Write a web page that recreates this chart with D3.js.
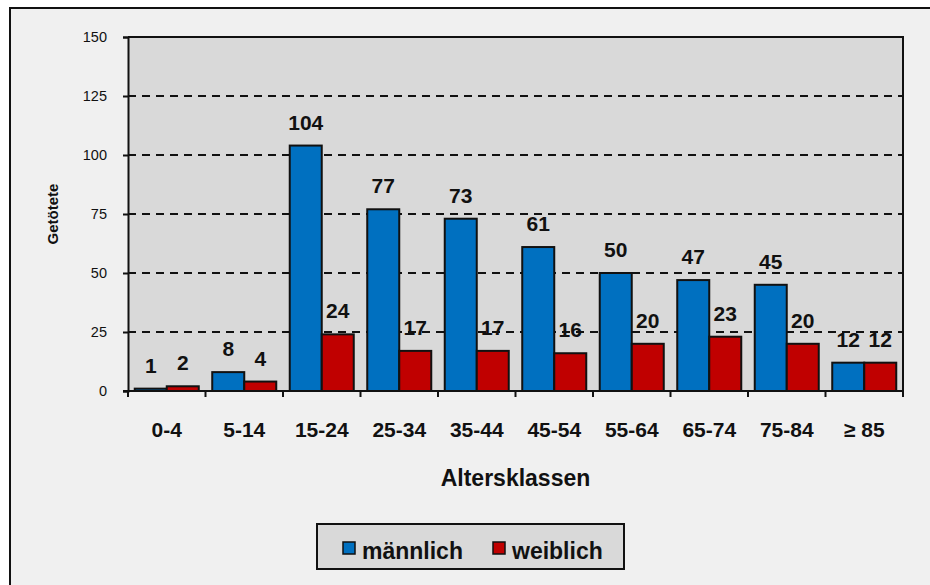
<!DOCTYPE html>
<html>
<head>
<meta charset="utf-8">
<script src="https://cdn.jsdelivr.net/npm/d3@7"></script>
<style>
  body { margin: 0; background: #fff; }
  svg { display: block; font-family: Arial, 'Liberation Sans', sans-serif; }
</style>
</head>
<body>
<div id="chart"></div>
<script>
// data
const categories = ['0-4', '5-14', '15-24', '25-34', '35-44', '45-54', '55-64', '65-74', '75-84', '≥ 85']
const maennlich = [1, 8, 104, 77, 73, 61, 50, 47, 45, 12]
const weiblich = [2, 4, 24, 17, 17, 16, 20, 23, 20, 12]
const seriesNames = ['männlich', 'weiblich']
const yTicks = [0, 25, 50, 75, 100, 125, 150]

const W = 930, H = 585
const plot = { left: 128, right: 903, top: 37, bottom: 391 }
const colors = ['#0070C0', '#C00000']

const svg = d3.select('#chart').append('svg')
    .attr('width', W)
    .attr('height', H)

// outer chart area (cropped at right/bottom)
svg.append('rect')
    .attr('x', 10).attr('y', 8)
    .attr('width', W + 10).attr('height', H + 10)
    .attr('fill', '#F0F0F0')
    .attr('stroke', '#111')
    .attr('stroke-width', 2)

const xScale = d3.scaleBand()
    .domain(categories)
    .range([plot.left, plot.right])
    .paddingInner(0.174)
    .paddingOuter(0.087)

const xSub = d3.scaleBand()
    .domain(seriesNames)
    .range([0, xScale.bandwidth()])

const yScale = d3.scaleLinear()
    .domain([0, 150])
    .range([plot.bottom, plot.top])

// plot area
svg.append('rect')
    .attr('x', plot.left).attr('y', plot.top)
    .attr('width', plot.right - plot.left)
    .attr('height', plot.bottom - plot.top)
    .attr('fill', '#D9D9D9')

// gridlines
svg.append('g')
    .selectAll('line')
    .data(yTicks.filter(d => d > 0 && d < 150))
    .join('line')
    .attr('x1', plot.left).attr('x2', plot.right)
    .attr('y1', d => yScale(d)).attr('y2', d => yScale(d))
    .attr('stroke', '#111')
    .attr('stroke-width', 2)
    .attr('stroke-dasharray', '8,6')

// top + right frame
svg.append('path')
    .attr('d', `M${plot.left},${plot.top}H${plot.right}V${plot.bottom}`)
    .attr('fill', 'none')
    .attr('stroke', '#111')
    .attr('stroke-width', 2)

// bars
const rows = categories.map((c, i) => ({ cat: c, values: [maennlich[i], weiblich[i]] }))

const groups = svg.append('g')
    .selectAll('g')
    .data(rows)
    .join('g')
    .attr('transform', d => `translate(${xScale(d.cat)},0)`)

groups.selectAll('rect')
    .data(d => d.values.map((v, j) => ({ name: seriesNames[j], v: v, j: j })))
    .join('rect')
    .attr('x', d => xSub(d.name))
    .attr('y', d => yScale(d.v))
    .attr('width', xSub.bandwidth())
    .attr('height', d => yScale(0) - yScale(d.v))
    .attr('fill', d => colors[d.j])
    .attr('stroke', '#111')
    .attr('stroke-width', 2)

// value labels
groups.selectAll('text')
    .data(d => d.values.map((v, j) => ({ name: seriesNames[j], v: v })))
    .join('text')
    .attr('x', d => xSub(d.name) + xSub.bandwidth() / 2)
    .attr('y', d => yScale(d.v) - 16)
    .attr('text-anchor', 'middle')
    .style('font-size', '21px')
    .style('font-weight', 'bold')
    .attr('fill', '#111')
    .text(d => d.v)

// y axis
const yaxis = d3.axisLeft(yScale).tickValues(yTicks).tickSize(5).tickPadding(16)
const gy = svg.append('g')
    .attr('transform', `translate(${plot.left},0)`)
    .call(yaxis)
gy.select('.domain').attr('stroke', '#111').attr('stroke-width', 2)
gy.selectAll('.tick line').attr('stroke', '#111').attr('stroke-width', 2)
gy.selectAll('.tick text')
    .style('font-size', '14.5px')
    .style('font-family', 'Arial, Liberation Sans, sans-serif')
    .attr('fill', '#111')

// x axis (ticks between categories)
const gx = svg.append('g')
gx.append('line')
    .attr('x1', plot.left - 5).attr('x2', plot.right)
    .attr('y1', plot.bottom).attr('y2', plot.bottom)
    .attr('stroke', '#111').attr('stroke-width', 2)
gx.selectAll('line.tick')
    .data(d3.range(categories.length + 1))
    .join('line')
    .attr('class', 'tick')
    .attr('x1', i => plot.left + i * xScale.step())
    .attr('x2', i => plot.left + i * xScale.step())
    .attr('y1', plot.bottom).attr('y2', plot.bottom + 6)
    .attr('stroke', '#111').attr('stroke-width', 2)
gx.selectAll('text')
    .data(categories)
    .join('text')
    .attr('x', d => xScale(d) + xScale.bandwidth() / 2)
    .attr('y', plot.bottom + 46)
    .attr('text-anchor', 'middle')
    .style('font-size', '21px')
    .style('font-weight', 'bold')
    .attr('fill', '#111')
    .text(d => d)

// axis titles
svg.append('text')
    .attr('x', (plot.left + plot.right) / 2)
    .attr('y', 486)
    .attr('text-anchor', 'middle')
    .style('font-size', '23px')
    .style('font-weight', 'bold')
    .attr('fill', '#111')
    .text('Altersklassen')

svg.append('text')
    .attr('transform', 'translate(58, 214) rotate(-90)')
    .attr('text-anchor', 'middle')
    .style('font-size', '15px')
    .style('font-weight', 'bold')
    .attr('fill', '#111')
    .text('Getötete')

// legend
const legend = svg.append('g').attr('transform', 'translate(317,524)')
legend.append('rect')
    .attr('width', 307).attr('height', 45)
    .attr('fill', '#D9D9D9')
    .attr('stroke', '#111').attr('stroke-width', 2)
const items = legend.selectAll('g.item')
    .data(seriesNames)
    .join('g')
    .attr('class', 'item')
    .attr('transform', (d, i) => `translate(${26 + i * 150},18)`)
items.append('rect')
    .attr('width', 12).attr('height', 12)
    .attr('fill', (d, i) => colors[i])
    .attr('stroke', '#111').attr('stroke-width', 1.5)
items.append('text')
    .attr('x', 19).attr('y', 17)
    .style('font-size', '23px')
    .style('font-weight', 'bold')
    .attr('fill', '#111')
    .text(d => d)
</script>
</body>
</html>
